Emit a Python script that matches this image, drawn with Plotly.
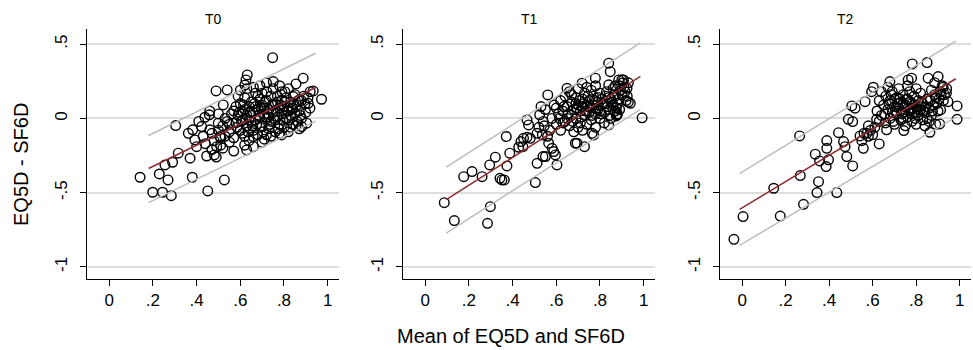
import plotly.graph_objects as go

# ---------------- data ----------------
t0_mean = [0.141,0.199,0.244,0.284,0.229,0.269,0.255,0.290,0.316,0.304,0.370,0.380,0.451,0.527,0.362,0.382,0.392,0.400,0.423,0.438,
           0.458,0.461,0.446,0.481,0.489,0.540,0.522,0.499,0.507,0.492,0.748,0.632,0.626,0.621,0.751,0.888,0.855,0.934,0.972,0.911,
           0.919,0.904,0.881,0.789,0.629,0.659,0.721,0.804,0.843,0.896,
           0.47,0.48,0.50,0.51,0.52,0.53,0.54,0.55,0.55,0.47,0.49,0.44,0.43,0.41,0.46,0.50,0.52,0.56,0.57,0.58,
           0.58,0.59,0.60,0.60,0.61,0.61,0.62,0.62,0.63,0.63,0.64,0.64,0.65,0.65,0.66,0.66,0.67,0.67,0.68,0.68,
           0.69,0.69,0.70,0.70,0.71,0.71,0.72,0.72,0.73,0.73,0.74,0.74,0.75,0.75,0.76,0.76,0.77,0.77,0.78,0.78,
           0.79,0.79,0.80,0.80,0.81,0.81,0.82,0.82,0.83,0.83,0.84,0.84,0.85,0.85,0.86,0.86,0.87,0.87,0.88,0.88,
           0.59,0.60,0.63,0.66,0.69,0.72,0.78,0.82,0.62,0.66,0.70,0.74,0.78,0.83,0.57,0.64,0.67,0.71,0.75,0.76,
           0.80,0.73,0.69,0.62,0.89,0.90,0.91,0.92,0.70,0.79,
           0.585,0.595,0.605,0.615,0.625,0.635,0.645,0.655,0.665,0.675,0.685,0.695,0.705,0.715,0.725,0.735,0.745,0.755,0.765,0.775,
           0.785,0.795,0.805,0.815,0.825,0.835,0.845,0.855,0.865,0.875,0.61,0.68,0.72,0.77,0.53,0.55,0.57,0.51]
t0_diff = [-0.396,-0.497,-0.497,-0.520,-0.374,-0.414,-0.313,-0.295,-0.234,-0.048,-0.268,-0.396,-0.488,-0.414,-0.100,-0.077,-0.145,-0.190,-0.055,0.008,
           0.024,-0.077,-0.253,-0.246,0.185,0.192,0.091,-0.032,-0.122,-0.190,0.409,0.293,0.259,0.225,0.248,0.271,0.232,0.185,0.129,0.102,
           0.069,-0.032,-0.055,-0.111,-0.212,-0.122,0.180,0.180,0.147,0.098,
           -0.10,-0.15,-0.08,-0.18,-0.05,-0.12,-0.02,-0.09,-0.16,-0.21,-0.26,-0.17,-0.12,-0.02,0.05,0.03,-0.20,0.03,-0.13,0.08,
           -0.03,0.02,-0.08,0.10,-0.01,0.05,-0.12,0.14,-0.05,0.02,0.08,-0.15,-0.02,0.11,0.04,-0.08,0.17,-0.01,0.06,-0.11,
           0.01,0.13,-0.05,0.09,0.03,-0.14,0.00,0.12,0.06,-0.07,0.15,-0.02,0.04,0.20,-0.09,0.10,0.01,0.15,0.07,-0.04,
           0.12,0.03,-0.06,0.08,0.14,0.00,0.05,-0.09,0.11,0.02,-0.04,0.07,0.16,0.03,-0.02,0.09,0.05,-0.07,0.12,0.00,
           0.15,0.19,0.20,0.21,0.22,0.24,0.22,0.20,-0.18,-0.19,-0.16,-0.12,-0.10,-0.06,-0.22,-0.01,0.08,0.07,0.09,-0.01,
           0.04,0.01,-0.06,0.06,0.15,0.04,0.14,0.18,0.17,0.18,
           -0.06,0.04,-0.02,0.09,0.00,-0.09,0.04,-0.05,0.10,-0.04,0.02,0.07,-0.09,0.11,0.03,-0.04,0.09,0.00,0.05,-0.07,
           0.09,-0.01,0.11,0.05,-0.01,0.06,0.10,-0.05,0.12,0.02,-0.10,0.15,-0.11,0.11,0.00,-0.04,0.05,-0.13]

t1_mean = [0.087,0.133,0.285,0.298,0.176,0.214,0.260,0.295,0.321,0.342,0.351,0.362,0.374,0.387,0.371,0.428,0.438,0.450,0.466,0.481,
           0.447,0.466,0.473,0.512,0.504,0.512,0.524,0.550,0.603,0.596,0.581,0.565,0.561,0.695,0.729,0.764,0.840,0.875,0.993,0.939,
           0.930,0.840,0.847,0.840,0.886,0.908,0.924,0.901,0.779,0.718,0.649,0.539,0.588,0.687,0.771,0.878,0.536,0.545,
           0.52,0.54,0.55,0.57,0.58,0.59,0.60,0.56,0.53,
           0.61,0.62,0.62,0.63,0.64,0.64,0.65,0.66,0.66,0.67,0.67,0.68,0.68,0.69,0.69,0.70,0.70,0.71,0.71,0.72,
           0.72,0.73,0.73,0.74,0.74,0.75,0.75,0.76,0.76,0.77,0.77,0.78,0.78,0.79,0.79,0.80,0.80,0.81,0.81,0.82,
           0.82,0.83,0.83,0.84,0.85,0.85,0.86,0.86,0.87,0.87,0.88,0.89,0.89,0.90,0.91,0.92,0.93,0.65,0.70,0.74,
           0.78,0.63,0.67,0.72,0.76,0.80,0.84,0.88,0.60,0.69,
           0.615,0.635,0.655,0.675,0.695,0.705,0.715,0.725,0.735,0.745,0.755,0.765,0.775,0.785,0.795,0.805,0.815,0.825,0.835,0.845,
           0.855,0.865,0.875,0.885,0.895,0.905,0.915,0.925,0.90,0.87]
t1_diff = [-0.567,-0.688,-0.706,-0.594,-0.392,-0.358,-0.392,-0.313,-0.261,-0.403,-0.414,-0.414,-0.320,-0.234,-0.122,-0.194,-0.156,-0.134,-0.127,-0.134,
           -0.190,-0.010,-0.044,-0.302,-0.432,-0.100,0.024,-0.257,-0.313,-0.246,-0.201,-0.167,0.158,-0.167,-0.190,-0.100,-0.044,0.017,0.004,0.102,
           0.110,0.372,0.315,0.226,0.259,0.259,0.203,0.158,0.271,0.237,0.203,-0.257,-0.223,-0.167,-0.111,0.024,-0.111,-0.05,
           -0.06,-0.02,0.06,-0.08,0.00,0.09,-0.04,-0.12,0.08,
           0.03,-0.08,0.12,0.05,-0.02,0.15,0.08,-0.05,0.18,0.02,0.11,-0.09,0.06,0.14,0.00,0.09,0.20,-0.03,0.05,0.13,
           -0.08,0.02,0.17,0.08,-0.04,0.12,0.04,0.19,-0.01,0.09,0.15,0.03,-0.06,0.11,0.06,0.17,0.00,0.09,0.13,0.04,
           -0.03,0.10,0.18,0.06,0.13,0.00,0.09,0.20,0.05,0.15,0.10,0.22,0.06,0.17,0.21,0.12,0.24,0.00,-0.06,0.21,
           0.22,-0.03,0.16,0.08,0.07,0.05,0.14,0.03,0.07,0.10,
           0.00,0.08,0.03,-0.02,0.07,0.12,0.01,0.10,0.05,0.15,0.08,0.02,0.12,0.07,0.14,0.03,0.10,0.15,0.08,0.02,
           0.11,0.16,0.07,0.13,0.19,0.24,0.18,0.15,0.26,0.22]

t2_mean = [-0.038,0.004,0.175,0.282,0.145,0.267,0.264,0.344,0.351,0.435,0.336,0.356,0.386,0.397,0.389,0.389,0.443,0.466,0.473,0.481,
           0.508,0.488,0.508,0.504,0.519,0.565,0.542,0.557,0.573,0.630,0.618,0.664,0.743,0.863,0.908,0.988,0.988,0.946,0.912,0.782,
           0.850,0.855,0.901,0.885,0.779,0.763,0.679,0.603,0.595,0.924,0.939,
           0.56,0.58,0.59,0.60,0.61,0.55,0.58,
           0.62,0.63,0.64,0.65,0.66,0.66,0.67,0.68,0.68,0.69,0.70,0.70,0.71,0.71,0.72,0.72,0.73,0.73,0.74,0.74,
           0.75,0.75,0.76,0.76,0.77,0.77,0.78,0.78,0.79,0.79,0.80,0.80,0.81,0.81,0.82,0.82,0.83,0.83,0.84,0.84,
           0.85,0.86,0.86,0.87,0.87,0.88,0.89,0.89,0.90,0.91,0.92,0.93,0.94,0.64,0.67,0.70,0.76,0.80,0.69,0.74,
           0.78,0.85,0.63,
           0.655,0.675,0.685,0.695,0.705,0.715,0.725,0.735,0.745,0.755,0.765,0.775,0.785,0.795,0.805,0.815,0.825,0.835,0.845,0.865,
           0.875,0.885,0.895,0.905,0.915,0.925]
t2_diff = [-0.814,-0.661,-0.657,-0.578,-0.470,-0.385,-0.118,-0.499,-0.426,-0.499,-0.241,-0.286,-0.324,-0.279,-0.201,-0.149,-0.096,-0.156,-0.190,-0.257,
           -0.320,-0.006,-0.021,0.084,0.069,0.113,-0.118,-0.201,-0.100,-0.172,-0.006,-0.077,-0.082,-0.093,-0.037,-0.006,0.084,0.113,0.057,0.367,
           0.376,0.271,0.282,0.241,0.271,0.259,0.248,0.210,0.180,0.210,0.170,
           -0.10,-0.12,-0.08,-0.11,-0.06,-0.15,-0.05,
           0.05,0.12,0.02,0.09,0.15,-0.03,0.06,0.12,0.00,0.18,0.08,-0.04,0.14,0.03,0.20,0.07,-0.01,0.11,0.16,0.04,
           -0.05,0.09,0.13,0.01,0.06,0.18,-0.02,0.10,0.04,0.15,0.08,-0.04,0.12,0.02,0.06,0.17,-0.01,0.10,0.04,-0.05,
           0.13,0.07,-0.02,0.02,0.19,0.09,-0.04,0.14,0.05,0.18,0.22,0.16,0.20,0.18,0.21,0.13,0.22,0.20,0.04,0.00,
           0.03,0.00,-0.02,
           0.03,0.10,0.16,-0.02,0.05,0.10,0.13,0.03,0.08,0.13,0.05,0.11,0.07,0.00,0.04,0.08,0.11,0.05,0.08,0.12,
           0.05,0.16,0.10,0.13,0.16,0.12]

# regression line and limits (endpoints)
t0_line_x = [0.180, 0.945]
t0_fit = [-0.337, 0.208]
t0_upper = [-0.115, 0.439]
t0_lower = [-0.567, -0.018]

t1_line_x = [0.096, 0.985]
t1_fit = [-0.547, 0.283]
t1_upper = [-0.328, 0.509]
t1_lower = [-0.772, 0.061]

t2_line_x = [-0.012, 0.982]
t2_fit = [-0.612, 0.267]
t2_upper = [-0.372, 0.520]
t2_lower = [-0.855, 0.009]

panel_titles = ["T0", "T1", "T2"]
x_ticks = [0, 0.2, 0.4, 0.6, 0.8, 1]
x_tick_labels = ["0", ".2", ".4", ".6", ".8", "1"]
y_ticks = [0.5, 0, -0.5, -1]
y_tick_labels = [".5", "0", "-.5", "-1"]

# ---------------- figure ----------------
W, H = 973, 350
FONT = "Liberation Sans, Arial, sans-serif"
fig = go.Figure()

panels = [
    (t0_mean, t0_diff, t0_line_x, t0_fit, t0_upper, t0_lower),
    (t1_mean, t1_diff, t1_line_x, t1_fit, t1_upper, t1_lower),
    (t2_mean, t2_diff, t2_line_x, t2_fit, t2_upper, t2_lower),
]
x_domains_px = [(87, 339), (403, 655), (720, 971)]
y_top_px, y_bot_px = 29.3, 279

for i, (mx, dy, lx, fit, up, lo) in enumerate(panels):
    sfx = "" if i == 0 else str(i + 1)
    xa, ya = "x" + sfx, "y" + sfx
    fig.add_trace(go.Scatter(x=mx, y=dy, mode="markers", xaxis=xa, yaxis=ya,
                             marker=dict(symbol="circle-open", size=9.6, color="black",
                                         line=dict(color="black", width=1.4)),
                             showlegend=False, hoverinfo="skip"))
    for yy, col in ((up, "#BDBDBD"), (lo, "#BDBDBD"), (fit, "#8E2B2F")):
        fig.add_trace(go.Scatter(x=lx, y=yy, mode="lines", xaxis=xa, yaxis=ya,
                                 line=dict(color=col, width=1.5),
                                 showlegend=False, hoverinfo="skip"))
    x0, x1 = x_domains_px[i]
    axis_common = dict(showline=True, linecolor="black", linewidth=1,
                       ticks="outside", ticklen=6, tickwidth=1, tickcolor="black",
                       zeroline=False, tickfont=dict(family=FONT, size=17, color="black"))
    fig.layout["xaxis" + sfx] = dict(domain=[x0 / W, x1 / W], anchor=ya,
                                     range=[-0.102, 1.052], tickvals=x_ticks, ticktext=x_tick_labels,
                                     showgrid=False, **axis_common)
    fig.layout["yaxis" + sfx] = dict(domain=[1 - y_bot_px / H, 1 - y_top_px / H], anchor=xa,
                                     range=[-1.081, 0.600], tickvals=y_ticks, ticktext=y_tick_labels,
                                     tickangle=-90, showgrid=True, gridcolor="#DEDEDE", gridwidth=1.5,
                                     ticklabelstandoff=6, **axis_common)
    fig.add_annotation(text=panel_titles[i], x=(x0 + x1) / 2 / W, y=1 - 19 / H,
                       xref="paper", yref="paper", showarrow=False,
                       font=dict(family=FONT, size=14, color="black"),
                       xanchor="center", yanchor="middle")

fig.add_annotation(text="EQ5D - SF6D", x=21 / W, y=1 - 165 / H, xref="paper", yref="paper",
                   showarrow=False, textangle=-90, xanchor="center", yanchor="middle",
                   font=dict(family=FONT, size=20, color="black"))
fig.add_annotation(text="Mean of EQ5D and SF6D", x=511 / W, y=1 - 336 / H, xref="paper", yref="paper",
                   showarrow=False, xanchor="center", yanchor="middle",
                   font=dict(family=FONT, size=20, color="black"))

fig.update_layout(width=W, height=H, margin=dict(l=0, r=0, t=0, b=0),
                  paper_bgcolor="white", plot_bgcolor="white")

fig.write_html("out.html", config={"displayModeBar": False},
               post_script="document.body.style.margin='0';document.body.style.overflow='hidden';")
